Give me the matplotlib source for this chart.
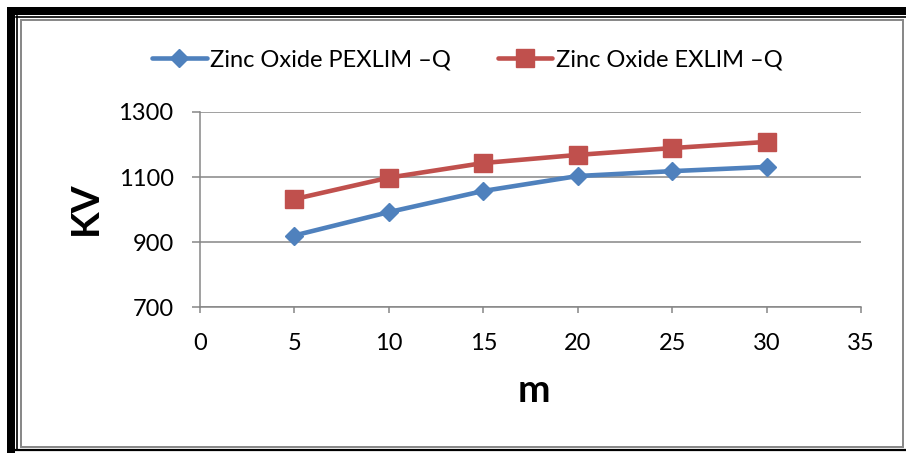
import matplotlib
matplotlib.use("Agg")
import matplotlib.pyplot as plt
from matplotlib.patches import Rectangle
from matplotlib.lines import Line2D

plt.rcParams['font.family'] = ['Lato', 'DejaVu Sans']

# data
m_values = [5, 10, 15, 20, 25, 30]
pexlim_q = [920, 992, 1057, 1103, 1118, 1131]
exlim_q = [1032, 1098, 1143, 1168, 1189, 1208]
labels = ['Zinc Oxide PEXLIM \u2013Q', 'Zinc Oxide EXLIM \u2013Q']
x_ticks = [0, 5, 10, 15, 20, 25, 30, 35]
y_ticks = [700, 900, 1100, 1300]

blue = '#4F81BD'
red = '#C0504D'
grey = '#868686'

W, H = 906, 453
fig = plt.figure(figsize=(W / 100, H / 100), dpi=100)
fig.patch.set_facecolor('white')

# frame drawn in pixel coordinates
bg = fig.add_axes([0, 0, 1, 1], zorder=0)
bg.set_xlim(0, W)
bg.set_ylim(H, 0)
bg.axis('off')
bg.add_patch(Rectangle((7, 7), W - 7, 8, color='black', lw=0))
bg.add_patch(Rectangle((7, 7), 8, H - 7, color='black', lw=0))
bg.plot([16, W], [16.5, 16.5], color='black', lw=1.2)
bg.plot([16.5, 16.5], [16, 450], color='black', lw=1.2)
bg.plot([16, W], [450, 450], color='black', lw=1.6)
bg.add_patch(Rectangle((21, 20), 881.5, 427, fill=False, ec=grey, lw=1.4))

# plot area
ax = fig.add_axes([200 / W, 1 - 307 / H, (861 - 200) / W, (307 - 112) / H], zorder=1)
ax.patch.set_alpha(0)

blue_style = dict(color=blue, lw=3.3, marker='D', ms=9.5, mew=1,
                  solid_capstyle='round', solid_joinstyle='round')
red_style = dict(color=red, lw=3.3, marker='s', ms=13, mew=1,
                 solid_capstyle='round', solid_joinstyle='round')

ax.plot(m_values, pexlim_q, clip_on=False, zorder=3, **blue_style)
ax.plot(m_values, exlim_q, clip_on=False, zorder=3, **red_style)

ax.set_xlim(0, 35)
ax.set_ylim(700, 1300)
ax.set_xticks(x_ticks)
ax.set_yticks(y_ticks)
ax.grid(axis='y', color=grey, lw=1.1)
ax.set_axisbelow(True)

for s in ['top', 'right']:
    ax.spines[s].set_visible(False)
for s in ['left', 'bottom']:
    ax.spines[s].set_color(grey)
    ax.spines[s].set_linewidth(1.1)

ax.tick_params(axis='x', direction='out', length=4, width=1.1, color=grey,
               labelsize=17, pad=15)
ax.tick_params(axis='y', direction='out', length=6, width=1.1, color=grey,
               labelsize=17, pad=13)

fig.text(85 / W, 1 - 208 / H, 'KV', rotation=90, fontsize=28, fontweight='bold',
         ha='center', va='center')
fig.text(534 / W, 1 - 390 / H, 'm', fontsize=28, fontweight='bold',
         ha='center', va='center')

handles = [Line2D([], [], **blue_style), Line2D([], [], **red_style)]
fig.legend(handles, labels, loc='center', bbox_to_anchor=(0.516, 1 - 60 / H),
           ncol=2, frameon=False, fontsize=17, handlelength=2.3,
           handletextpad=0.15, columnspacing=2.0)

fig.savefig('out.png', dpi=100)
